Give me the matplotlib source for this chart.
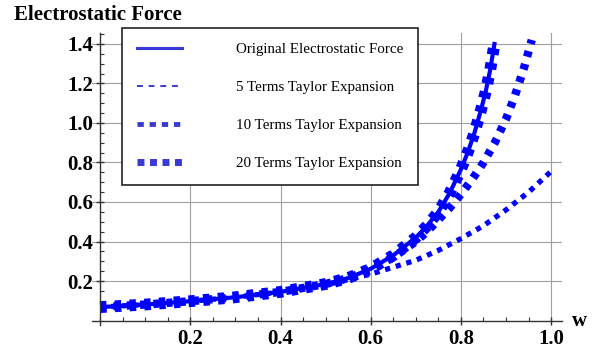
import numpy as np
import matplotlib
matplotlib.use("Agg")
import matplotlib.pyplot as plt
from matplotlib.lines import Line2D
from matplotlib.ticker import FixedLocator, MultipleLocator

# values
w_orig = [0.0, 0.1, 0.2, 0.3, 0.4, 0.5, 0.55, 0.6, 0.65, 0.7, 0.725, 0.75,
          0.775, 0.8, 0.815, 0.83, 0.845, 0.855, 0.865, 0.875]
f_orig = [0.068, 0.081, 0.098, 0.118, 0.145, 0.185, 0.215, 0.262, 0.33, 0.42,
          0.48, 0.55, 0.645, 0.765, 0.85, 0.95, 1.07, 1.16, 1.27, 1.41]

w_t20 = w_orig
f_t20 = f_orig

w_t10 = [0.0, 0.1, 0.2, 0.3, 0.4, 0.5, 0.55, 0.6, 0.65, 0.7, 0.725, 0.75,
         0.775, 0.8, 0.825, 0.85, 0.875, 0.9, 0.92, 0.94, 0.957]
f_t10 = [0.068, 0.081, 0.098, 0.118, 0.145, 0.185, 0.215, 0.26, 0.32, 0.40,
         0.45, 0.51, 0.57, 0.64, 0.715, 0.80, 0.90, 1.02, 1.14, 1.28, 1.42]

w_t5 = [0.0, 0.1, 0.2, 0.3, 0.4, 0.5, 0.6, 0.65, 0.7, 0.75, 0.8, 0.85, 0.9,
        0.95, 1.0]
f_t5 = [0.068, 0.081, 0.098, 0.118, 0.145, 0.18, 0.235, 0.27, 0.305, 0.355,
        0.415, 0.48, 0.56, 0.65, 0.755]

labels = ["Original Electrostatic Force", "5 Terms Taylor Expansion",
          "10 Terms Taylor Expansion", "20 Terms Taylor Expansion"]
xticks = [0.2, 0.4, 0.6, 0.8, 1.0]
yticks = [0.2, 0.4, 0.6, 0.8, 1.0, 1.2, 1.4]

blue = "#0000ff"
leg_blue = "#3a3ad6"
serif = ["Liberation Serif", "DejaVu Serif"]

plt.rcParams["font.family"] = serif

fig = plt.figure(figsize=(6.02, 3.52), dpi=100)
ax = fig.add_axes([0.1528, 0.0781, 0.7807, 0.8281])

ax.plot(w_orig, f_orig, color=blue, lw=3.0, solid_capstyle="butt")
ax.plot(w_t5, f_t5, color=blue, lw=3.8, dashes=(1.0, 1.1))
ax.plot(w_t10, f_t10, color=blue, lw=6.0, dashes=(0.7, 0.9))
ax.plot(w_t20, f_t20, color=blue, lw=8.5, dashes=(0.55, 0.7))

ax.set_xlim(-0.018, 1.024)
ax.set_ylim(-0.02, 1.455)

ax.spines["left"].set_position(("data", 0))
ax.spines["bottom"].set_position(("data", 0))
ax.spines["top"].set_visible(False)
ax.spines["right"].set_visible(False)
for s in ["left", "bottom"]:
    ax.spines[s].set_color("#333333")
    ax.spines[s].set_linewidth(1.0)

ax.xaxis.set_major_locator(FixedLocator(xticks))
ax.yaxis.set_major_locator(FixedLocator(yticks))
ax.xaxis.set_minor_locator(MultipleLocator(0.05))
ax.yaxis.set_minor_locator(MultipleLocator(0.05))
ax.set_xticklabels(["%.1f" % t for t in xticks])
ax.set_yticklabels(["%.1f" % t for t in yticks])
ax.tick_params(which="major", direction="inout", length=6, width=1,
               color="#333333", labelsize=15)
ax.tick_params(which="minor", direction="in", length=3, width=0.8,
               color="#333333")
ax.tick_params(axis="y", which="major", pad=2)
ax.tick_params(axis="x", which="major", pad=3)
for lab in ax.get_xticklabels() + ax.get_yticklabels():
    lab.set_fontweight("bold")

ax.grid(True, which="major", color="#a0a0a0", lw=0.8)
ax.set_axisbelow(True)

handles = [
    Line2D([], [], color=leg_blue, lw=2.2),
    Line2D([], [], color=leg_blue, lw=1.4, dashes=(3.0, 3.0)),
    Line2D([], [], color=leg_blue, lw=3.5, dashes=(1.3, 1.2)),
    Line2D([], [], color=leg_blue, lw=5.0, dashes=(1.0, 0.8)),
]
leg = ax.legend(handles, labels, loc="upper left",
                bbox_to_anchor=(122 / 602, 1 - 28 / 352),
                bbox_transform=fig.transFigure, borderaxespad=0,
                fontsize=10.8, handlelength=3.0, handletextpad=3.6,
                borderpad=1.0, labelspacing=1.62, fancybox=False,
                framealpha=1, edgecolor="#222222")
leg.get_frame().set_linewidth(1.2)

fig.text(14 / 602, 1 - 20 / 352, "Electrostatic Force", fontsize=15,
         fontweight="bold", va="baseline", ha="left")
fig.text(580 / 602, 1 - 321 / 352, "w", fontsize=15, fontweight="bold",
         va="center", ha="center")

fig.savefig("out.png", dpi=100)
